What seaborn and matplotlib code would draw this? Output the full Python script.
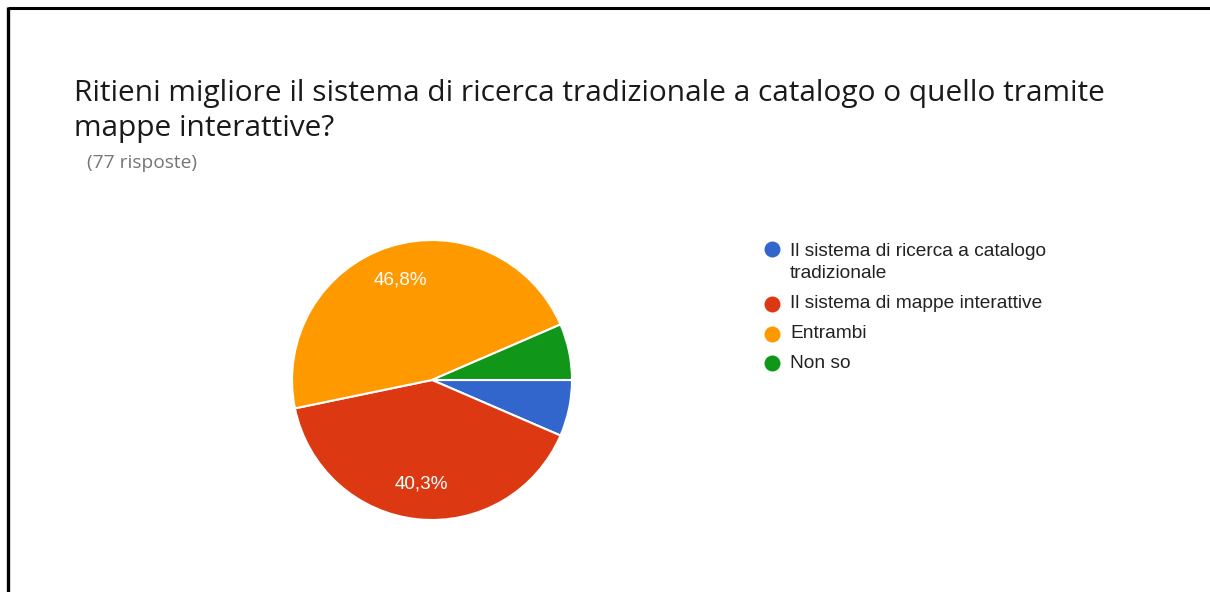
import matplotlib
matplotlib.use("Agg")
import matplotlib.pyplot as plt
from matplotlib.lines import Line2D
import seaborn as sns

# Survey answers (77 responses)
categories = [
    "Il sistema di ricerca a catalogo\ntradizionale",
    "Il sistema di mappe interattive",
    "Entrambi",
    "Non so",
]
counts = [5, 31, 36, 5]
colors = ["#3366cc", "#dc3912", "#ff9900", "#109618"]
title_lines = "Ritieni migliore il sistema di ricerca tradizionale a catalogo o quello tramite\nmappe interattive?"
subtitle = "(77 risposte)"

sns.set_theme(style="white")
sns.set_palette(colors)
plt.rcParams["font.family"] = ["Liberation Sans", "DejaVu Sans"]

W, H = 1210, 592
fig = plt.figure(figsize=(W / 100, H / 100), dpi=100)
fig.patch.set_facecolor("white")

# Overlay in pixel coordinates for frame, titles and legend
ov = fig.add_axes([0, 0, 1, 1])
ov.set_xlim(0, W)
ov.set_ylim(H, 0)
ov.axis("off")

# Frame lines (top and left)
ov.plot([8, W], [7.5, 7.5], color="black", lw=2.2, solid_capstyle="butt")
ov.plot([8, 8], [6.5, H], color="black", lw=2.4, solid_capstyle="butt")

# Title: baseline of the last line is the anchor
ov.text(74, 136, title_lines, fontsize=21.5, color="#1a1a1a", family=["Open Sans", "DejaVu Sans"],
        va="baseline", ha="left", linespacing=1.25)
ov.text(87, 168, subtitle, fontsize=13.8, color="#757575", family=["Open Sans", "DejaVu Sans"],
        va="baseline", ha="left")

# Pie
cx, cy, r = 432, 380, 140
pie_ax = fig.add_axes([(cx - r) / W, 1 - (cy + r) / H, 2 * r / W, 2 * r / H])


def pct_label(p):
    return f"{p:.1f}%".replace(".", ",") if p >= 10 else ""


wedges, texts, autotexts = pie_ax.pie(
    counts,
    colors=colors,
    startangle=0,
    counterclock=False,
    autopct=pct_label,
    pctdistance=0.75,
    wedgeprops=dict(edgecolor="white", linewidth=1.5),
    textprops=dict(color="white", fontsize=13.6),
    radius=1.0,
)
pie_ax.set_xlim(-1.0, 1.0)
pie_ax.set_ylim(-1.0, 1.0)
pie_ax.set_aspect("equal")
pie_ax.axis("off")

# Legend
row_y = [249, 304, 334, 363]
for cat, col, y in zip(categories, colors, row_y):
    ov.add_line(Line2D([772], [y], marker="o", markersize=11.5, color=col, markeredgewidth=0))
    if "\n" in cat:
        ov.text(790, y + 29, cat, fontsize=13.8, color="#222222", va="baseline", ha="left",
                linespacing=1.42)
    else:
        ov.text(790, y, cat, fontsize=13.8, color="#222222", va="center", ha="left")

fig.savefig("out.png", dpi=100, facecolor="white")
